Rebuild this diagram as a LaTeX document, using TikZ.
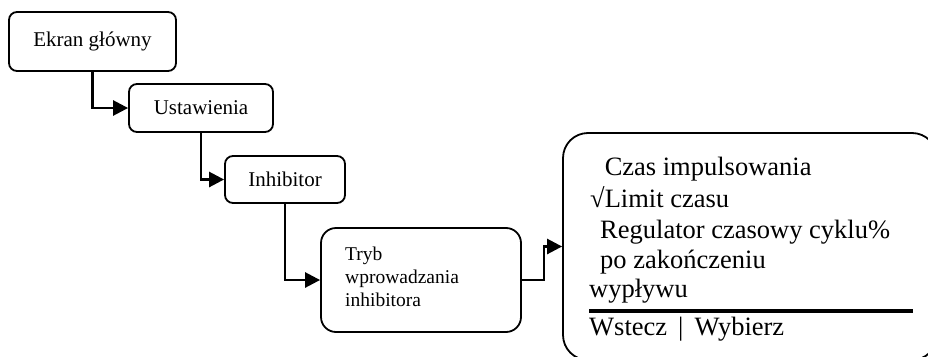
\documentclass[tikz,border=0pt]{standalone}
\usepackage{fontspec}
\setmainfont{Liberation Serif}
\usetikzlibrary{arrows.meta}
\tikzset{
  menubox/.style={draw, line width=1.8pt, rounded corners=8pt, inner sep=0pt,
    font=\fontsize{21}{24}\selectfont},
  link/.style={line width=2.6pt, -{Triangle[length=15pt,width=15pt]}},
  screentext/.style={anchor=base west, inner sep=0pt, font=\fontsize{26.5}{30}\selectfont},
}
\begin{document}
\begin{tikzpicture}[x=1pt,y=-1pt]
  \useasboundingbox (0,0) rectangle (928,356);
  \begin{scope}
    \clip (0,0) rectangle (928,356);
    % menu path
    \node[menubox, minimum width=167pt, minimum height=59pt] (main) at (92.5,41.5) {Ekran główny};
    \node[menubox, minimum width=144pt, minimum height=48pt] (settings) at (201,108) {Ustawienia};
    \node[menubox, minimum width=120pt, minimum height=47pt] (inhib) at (285,179.5) {Inhibitor};
    \node[menubox, rounded corners=15pt, minimum width=200pt, minimum height=104pt] (mode) at (421,280) {};
    \node[anchor=base west, inner sep=0pt, align=left, font=\fontsize{19.5}{23}\selectfont]
      (modetext) at (345,306) {Tryb\\wprowadzania\\inhibitora};
    % screen with the option list
    \node[draw, line width=1.8pt, rounded corners=25pt, minimum width=374pt, minimum height=227pt, inner sep=0pt]
      (screen) at (750,246.5) {};
    \node[screentext] (o1) at (590,175) {\hphantom{√}Czas impulsowania};
    \node[screentext] (o2) at (590,207) {√Limit czasu};
    \node[screentext] (o3) at (600,238) {Regulator czasowy cyklu\%};
    \node[screentext] (o4) at (600,268) {po zakończeniu};
    \node[screentext] (o5) at (589,297) {wypływu};
    \coordinate (sepL) at (589,311);
    \coordinate (sepR) at (913,311);
    \draw[line width=3.5pt] (sepL) -- (sepR);
    \node[screentext] (keys) at (589,335) {Wstecz \,|\, Wybierz};
    % connectors
    \draw[link] (main.south) |- (settings.west);
    \draw[link] (settings.south) |- (inhib.west);
    \draw[link] (inhib.south) |- (mode.west);
    \draw[link] (mode.east) -- ++(22,0) |- (screen.west);
  \end{scope}
\end{tikzpicture}
\end{document}
